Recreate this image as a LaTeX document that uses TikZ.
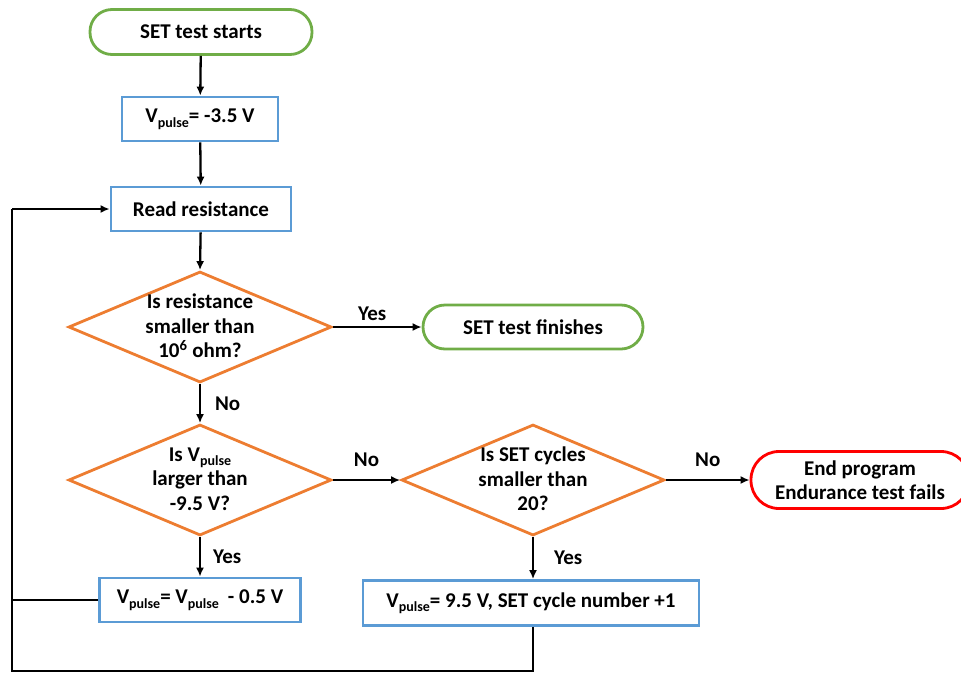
\documentclass[tikz,border=0pt]{standalone}
\usepackage{fontspec}
\setmainfont{Carlito}
\usetikzlibrary{shapes.geometric,arrows.meta}
\definecolor{cgreen}{HTML}{70AD47}
\definecolor{cblue}{HTML}{5B9BD5}
\definecolor{corange}{HTML}{ED7D31}
\definecolor{cred}{HTML}{FF0000}
\newcommand\vsub{\raisebox{-4.5pt}{\fontsize{14}{14}\selectfont pulse}}
\newcommand\Vp{V\vsub}
\begin{document}
\begin{tikzpicture}[x=1pt,y=-1pt,
  every node/.style={font=\fontsize{21}{24.5}\selectfont\bfseries},
  term/.style={draw=#1, line width=2.8pt, rounded corners=22pt, inner sep=0pt},
  proc/.style={draw=cblue, line width=2.8pt, inner sep=0pt, minimum height=44pt},
  decision/.style={draw=corange, diamond, line width=2.8pt, inner sep=0pt, minimum width=263pt, minimum height=111pt},
  txt/.style={align=center, inner sep=0pt},
  arr/.style={line width=2.3pt, -{Latex[length=9pt,width=8pt]}},
  ln/.style={line width=2.3pt}]
\useasboundingbox (0,0) rectangle (961,673);
% nodes
\node[term=cgreen, minimum width=222pt, minimum height=45pt] (start) at (201,32) {SET test starts};
\node[proc, minimum width=156pt] (vset) at (200,119) {\Vp= -3.5 V};
\node[proc, minimum width=180pt] (read) at (201,209) {Read resistance};
\node[decision] (d1) at (200,327) {};
\node[txt] (d1t) at (200,326) {Is resistance\\smaller than\\10\textsuperscript{6} ohm?};
\node[term=cgreen, minimum width=220pt, minimum height=44pt] (fin) at (533,327) {SET test finishes};
\node[decision] (d2) at (200,480) {};
\node[txt] (d2t) at (200,479) {Is \Vp\\larger than\\-9.5 V?};
\node[decision] (d3) at (533,480) {};
\node[txt] (d3t) at (533,479) {Is SET cycles\\smaller than\\20?};
\node[term=cred, rounded corners=28pt, minimum width=218pt, minimum height=57pt, align=center] (endp) at (860,480) {End program\\Endurance test fails};
\node[proc, minimum width=201pt] (dec) at (200,600) {\Vp= \Vp\hspace{9pt}- 0.5 V};
\node[proc, minimum width=336pt, minimum height=45pt] (setc) at (531,603) {\Vp= 9.5 V, SET cycle number +1};
% coordinates
\coordinate (lt) at (12,209);
\coordinate (lm) at (12,600);
\coordinate (lb) at (12,671);
\coordinate (rb) at (533,671);
% connectors
\draw[arr] (start) -- (vset);
\draw[arr] (vset) -- (read);
\draw[arr] (read) -- (d1.north);
\draw[arr] (d1.east) -- node[above=5pt, xshift=-5pt, inner sep=0pt] {Yes} (fin.west);
\draw[arr] (d1.south) -- node[right=14pt, inner sep=0pt] {No} (d2.north);
\draw[arr] (d2.east) -- node[above=12pt, inner sep=0pt] {No} (d3.west);
\draw[arr] (d3.east) -- node[above=12pt, inner sep=0pt] {No} (endp.west);
\draw[arr] (d2.south) -- node[right=12pt, inner sep=0pt] {Yes} (dec.north);
\draw[arr] (d3.south) -- node[right=20pt, inner sep=0pt] {Yes} (d3.south |- setc.north);
\draw[ln] (dec.west) -- (lm);
\draw[ln] (setc.south -| rb) -- (rb) -- (lb) -- (lt);
\draw[arr] (lt) -- (read.west);
\end{tikzpicture}
\end{document}
